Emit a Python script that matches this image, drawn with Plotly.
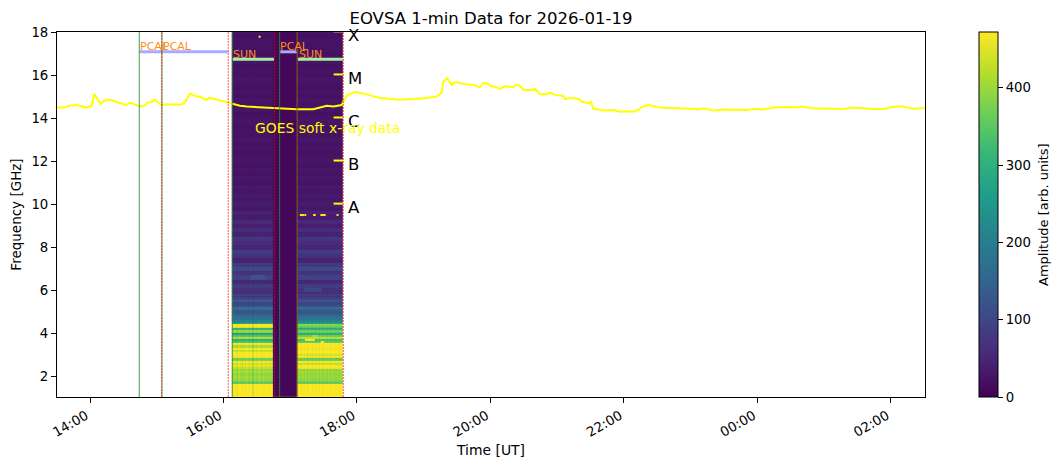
import pandas as pd
import plotly.graph_objects as go

BASE = pd.Timestamp("2026-01-19 14:00")

# GOES curve: minutes after 14:00 UT, plotted level
goes_minutes = [-29.7,-22.5,-19.5,-12,-3,1.5,3.9,6.9,9.6,12.6,18,24,32.4,36,44.3,49.4,51.5,55.5,58.4,62.9,65.9,82.4,85.4,89.9,94.4,98.9,104.3,107.9,116.9,124.3,127.9,134.8,140.9,155.8,170.8,185.8,200.7,212.8,218.7,226.3,230.7,238.2,250.2,260.7,278.7,290.6,302.7,311.6,316.1,317.6,321.2,325.1,327.2,331.1,335.6,346.1,350.6,353.5,358,360.2,364,368.5,373,380.5,382.7,386.5,389.5,398.5,400,404.5,410.5,413.5,418,425.4,427.6,431.5,439,442,447.9,450.4,452.4,461.4,470.4,476.4,482.4,488.4,492.9,495.9,501.9,512.4,536.4,539.4,548.3,551.3,560.3,569.3,590.3,597.8,605.2,614.2,629.2,635.3,638.9,650.2,677.2,684.7,704.1,714.6,720.7,728.8,740.1,750.6]
goes_level = [14.49,14.49,14.57,14.61,14.49,14.58,15.12,14.85,14.66,14.81,14.85,14.75,14.61,14.72,14.55,14.58,14.72,14.75,14.86,14.65,14.63,14.63,14.74,15.14,15.03,14.99,14.85,14.94,14.81,14.72,14.65,14.58,14.54,14.49,14.46,14.41,14.41,14.57,14.54,14.61,15.05,15.22,15.08,14.94,14.85,14.88,14.94,15.0,15.18,15.69,15.85,15.54,15.65,15.65,15.59,15.53,15.42,15.63,15.59,15.48,15.46,15.36,15.48,15.44,15.56,15.5,15.31,15.31,15.37,15.11,15.11,15.18,15.08,15.03,14.88,14.95,14.89,14.77,14.69,14.75,14.44,14.35,14.38,14.30,14.32,14.30,14.38,14.51,14.61,14.49,14.44,14.40,14.41,14.46,14.35,14.40,14.38,14.44,14.40,14.49,14.52,14.49,14.54,14.46,14.42,14.49,14.43,14.44,14.52,14.55,14.44,14.47]

# Spectrogram rows
freq_low = [1.1,1.2,1.3,1.4,1.5,1.6,1.7,1.8,1.9,2.0,2.1,2.2,2.3,2.4,2.5,2.6,2.7,2.8,2.9,3.0,3.1,3.2,3.3,3.4,3.5,3.6,3.7,3.8,3.9,4.0,4.1,4.2,4.3,4.4,4.5,4.6,4.7,4.8,4.9,5.0,5.1,5.2,5.3,5.4,5.5,5.6,5.7,5.8,5.9]
sun1_low = [475,475,475,475,475,475,345,390,400,405,395,410,400,430,455,440,470,370,475,475,470,430,470,410,475,330,300,420,340,270,400,300,470,475,230,210,180,165,135,120,150,180,110,95,140,100,75,90,60]
sun2_low = [475,475,475,475,475,475,350,385,395,400,395,405,395,470,475,430,475,360,470,440,475,475,460,475,475,350,330,430,360,290,370,290,360,390,240,215,185,165,135,120,145,175,110,95,130,95,75,85,60]
freq_high = [6.0,6.2,6.4,6.6,6.8,7.0,7.2,7.4,7.6,7.8,8.0,8.2,8.4,8.6,8.8,9.0,9.2,9.4,9.6,9.8,10.0,10.2,10.4,10.6,10.8,11.0,11.2,11.4,11.6,11.8,12.0,12.2,12.4,12.6,12.8,13.0,13.2,13.4,13.6,13.8,14.0,14.2,14.4,14.6,14.8,15.0,15.2,15.4,15.6,15.8,16.0,16.2,16.4,16.6,16.8,17.0,17.2,17.4,17.6,17.8,18.0]
sun_high = [65,85,50,95,70,105,80,45,70,85,50,60,75,45,60,40,55,35,45,30,38,30,34,27,32,25,30,24,29,23,28,25,22,27,24,30,23,26,22,28,24,21,26,23,27,22,25,21,24,28,22,25,21,26,23,20,24,22,26,21,24]
pcal_amp = 8

# Scan columns (minutes after 14:00), column gains
sun1_minutes = list(range(128, 165))
pcal_minutes = list(range(165, 186))
sun2_minutes = list(range(186, 228))
sun1_gain = [1.02,0.98,1.0,1.03,0.97,1.0,1.04,0.99,1.01,0.96,1.02,1.0,0.98,1.03,1.0,0.97,1.01,1.02,0.95,0.9,1.03,1.01,0.98,1.02,1.04,0.99,1.0,0.97,1.03,1.01,0.98,1.0,1.02,0.97,1.01,0.99,1.0]
sun2_gain = [1.01,0.98,1.02,1.0,0.97,1.03,1.0,0.98,1.02,0.96,1.0,1.03,0.99,1.01,0.97,1.02,1.0,0.98,1.04,1.0,0.97,1.02,1.01,0.99,0.96,1.03,1.0,0.98,1.02,1.01,0.97,1.0,1.03,0.99,1.01,0.98,1.02,1.0,0.97,1.03,1.0,0.99]
# freq, start minute, end minute, amplitude
bright_cells = [(6.6,145,157,125),(6.0,193,208,100),(3.6,208,210,475),(3.7,194,202,470),(3.9,200,204,410)]
# isolated saturated pixels
hot_minutes = [189.5,190.5,191.5,193.5,201.5,202,208,209,210,211,222.5,152.5]
hot_freq = [9.5,9.5,9.5,9.5,9.5,9.5,9.5,9.5,9.5,9.5,9.5,17.78]

# Calibration / scan markers, minutes after 14:00
green_lines = [44.3,64.7,127.9,170.5,186.3]
red_lines = [64.4,124.3,165.7,185.8,227.7]
pcal_bars = [(44.3,124.3),(171.0,186.0)]
sun_bars = [(128.2,165.4),(186.8,227.7)]
pcal_labels = [43.8,64.4,170.1]
sun_labels = [127.5,186.9]
label_pcal_y = 16.98
label_sun_y = 16.62
pcal_bar_y = 17.08
sun_bar_y = 16.73

flare_levels = [10,12,14,16,18]
flare_names = ["A","B","C","M","X"]

x_tick_minutes = [0,120,240,360,480,600,720]
x_tick_text = ["14:00","16:00","18:00","20:00","22:00","00:00","02:00"]
y_ticks = [2,4,6,8,10,12,14,16,18]
cbar_ticks = [0,100,200,300,400]


def t(m):
    return BASE + pd.Timedelta(minutes=m)


FREQ = freq_low + freq_high
sun1_rows = sun1_low + sun_high
sun2_rows = sun2_low + sun_high
COLS = sun1_minutes + pcal_minutes + sun2_minutes
z = []
for i, f in enumerate(FREQ):
    row = [sun1_rows[i] * g for g in sun1_gain]
    row += [pcal_amp] * len(pcal_minutes)
    row += [sun2_rows[i] * g for g in sun2_gain]
    for bf, a, b, val in bright_cells:
        if abs(bf - f) < 1e-6:
            for j, m in enumerate(COLS):
                if a <= m <= b:
                    row[j] = val
    z.append(row)

FONT = "DejaVu Sans"
fig = go.Figure()
fig.add_trace(go.Heatmap(
    x=[t(m) for m in COLS], y=FREQ, z=z, colorscale="Viridis", zmin=0, zmax=472,
    hoverinfo="skip",
    colorbar=dict(
        x=(979.3 - 57) / 868, xanchor="left", xpad=0, y=0.5, yanchor="middle", ypad=0,
        len=1, lenmode="fraction", thickness=19, thicknessmode="pixels",
        outlinecolor="black", outlinewidth=1, ticks="outside", ticklen=5, tickcolor="black",
        tickvals=cbar_ticks, tickfont=dict(family=FONT, size=13.3, color="black"),
    ),
))
fig.add_trace(go.Scatter(x=[t(m) for m in hot_minutes], y=hot_freq, mode="markers",
                         marker=dict(symbol="square", size=2, color="#fde725"), hoverinfo="skip", showlegend=False))
fig.add_trace(go.Scatter(x=[t(m) for m in goes_minutes], y=goes_level, mode="lines",
                         line=dict(color="#ffff00", width=2), hoverinfo="skip", showlegend=False))

for m in green_lines:
    fig.add_shape(type="line", x0=t(m), x1=t(m), y0=0, y1=1, yref="paper",
                  line=dict(color="#2e8b2e", width=1), opacity=0.85, layer="above")
for m in red_lines:
    fig.add_shape(type="line", x0=t(m), x1=t(m), y0=0, y1=1, yref="paper",
                  line=dict(color="red", width=1, dash="2px,1px"), opacity=0.65, layer="above")
for a, b in pcal_bars:
    fig.add_trace(go.Scatter(x=[t(a), t(b)], y=[pcal_bar_y] * 2, mode="lines",
                             line=dict(color="#aaaaff", width=3), hoverinfo="skip", showlegend=False))
for a, b in sun_bars:
    fig.add_trace(go.Scatter(x=[t(a), t(b)], y=[sun_bar_y] * 2, mode="lines",
                             line=dict(color="#a4eea4", width=3), hoverinfo="skip", showlegend=False))
for lev in flare_levels:
    fig.add_trace(go.Scatter(x=[t(219), t(227.7)], y=[lev + 0.03] * 2, mode="lines",
                             line=dict(color="#ffff00", width=2), hoverinfo="skip", showlegend=False))

anns = []
for m in pcal_labels:
    anns.append(dict(x=t(m), y=label_pcal_y, text="PCAL", xanchor="left", yanchor="bottom", showarrow=False,
                     borderpad=0, font=dict(family=FONT, size=11, color="#ff8c1a")))
for m in sun_labels:
    anns.append(dict(x=t(m), y=label_sun_y, text="SUN", xanchor="left", yanchor="bottom", showarrow=False,
                     borderpad=0, font=dict(family=FONT, size=11, color="#ff8c1a")))
for lev, name in zip(flare_levels, flare_names):
    anns.append(dict(x=t(230.6), y=lev, text=name, xanchor="left", yanchor="middle", showarrow=False, yshift=-3.5,
                     borderpad=0, font=dict(family=FONT, size=16.5, color="black")))
anns.append(dict(x=t(147), y=13.56, text="GOES soft x-ray data", xanchor="left", yanchor="middle", showarrow=False,
                 borderpad=0, font=dict(family=FONT, size=13.9, color="#ffff00")))
anns.append(dict(x=(1043.5 - 57) / 868, y=0.5, xref="paper", yref="paper", text="Amplitude [arb. units]", textangle=-90,
                 xanchor="center", yanchor="middle", showarrow=False, borderpad=0,
                 font=dict(family=FONT, size=13, color="black")))

axis_common = dict(showgrid=False, zeroline=False, showline=True, mirror=True, linecolor="black", linewidth=1,
                   ticks="outside", ticklen=5, tickcolor="black", automargin=False)
fig.update_layout(
    width=1055, height=460, margin=dict(l=49, r=138, t=24, b=71, pad=0),
    paper_bgcolor="white", plot_bgcolor="white", showlegend=False, annotations=anns,
    font=dict(family=FONT, size=13.3, color="black"),
    title=dict(text="EOVSA 1-min Data for 2026-01-19", x=483 / 1055, xanchor="center", y=1 - 10 / 460, yanchor="middle",
               font=dict(family=FONT, size=16.5, color="black")),
    xaxis=dict(range=[t(-29.66), t(750.6)], type="date", tickmode="array",
               tickvals=[t(m) for m in x_tick_minutes], ticktext=x_tick_text, tickangle=-30, ticklabelshift=-4,
               title=dict(text="Time [UT]", standoff=6, font=dict(family=FONT, size=13.9)), **axis_common),
    yaxis=dict(range=[1.05, 18], tickmode="array", tickvals=y_ticks,
               title=dict(text="Frequency [GHz]", standoff=8, font=dict(family=FONT, size=13.5)), **axis_common),
)
fig.write_html("out.html")
